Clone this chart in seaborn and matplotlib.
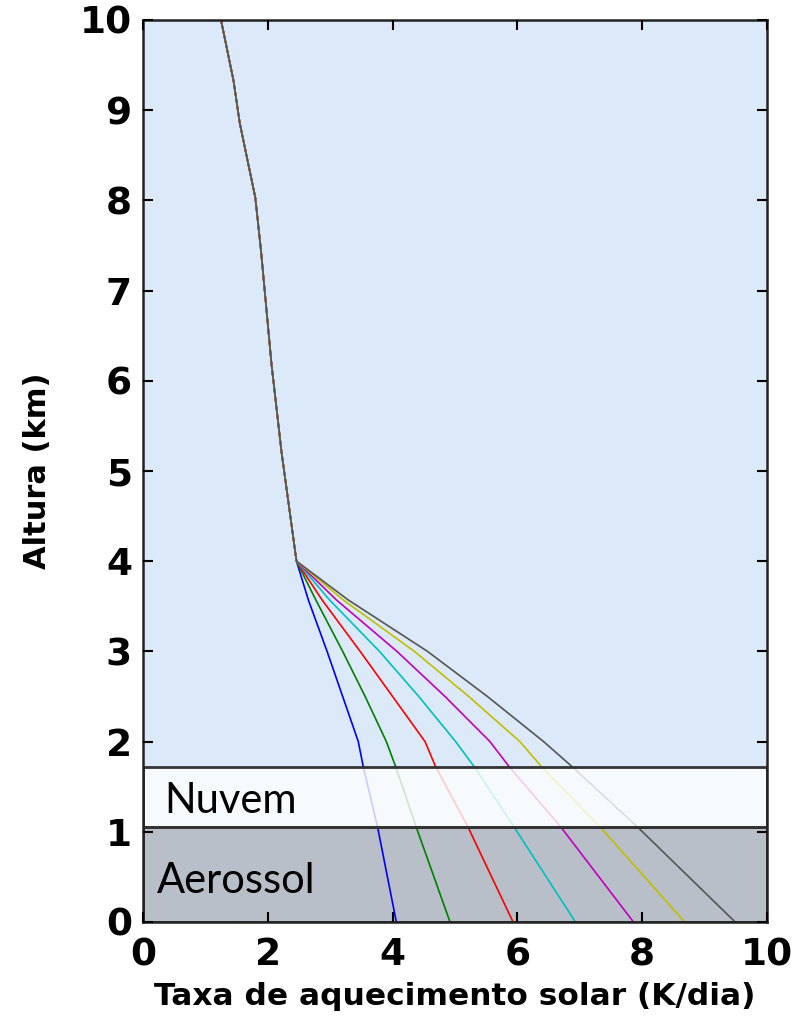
import matplotlib
matplotlib.use("Agg")
import matplotlib.pyplot as plt
import seaborn as sns
import pandas as pd
from matplotlib.patches import Rectangle

# ---- data ----
alt_upper = [10.0, 9.33, 8.86, 8.03, 7.45, 6.18, 5.21, 4.0]
rate_upper = [1.25, 1.45, 1.55, 1.80, 1.89, 2.06, 2.22, 2.46]

alt_lower = [3.57, 3.0, 2.5, 2.0, 1.72, 1.05, 0.0]
rate_blue = [2.65, 2.95, 3.20, 3.45, 3.53, 3.76, 4.06]
rate_green = [2.77, 3.20, 3.56, 3.90, 4.05, 4.38, 4.92]
rate_red = [2.87, 3.48, 4.00, 4.52, 4.69, 5.21, 5.93]
rate_cyan = [2.99, 3.79, 4.42, 5.01, 5.31, 5.95, 6.93]
rate_magenta = [3.10, 4.07, 4.84, 5.56, 5.87, 6.70, 7.86]
rate_yellow = [3.21, 4.35, 5.22, 6.04, 6.39, 7.33, 8.68]
rate_gray = [3.29, 4.56, 5.52, 6.42, 6.88, 7.93, 9.49]

series_names = ["azul", "verde", "vermelho", "ciano", "magenta", "amarelo", "cinza"]
series_rates = [rate_blue, rate_green, rate_red, rate_cyan, rate_magenta, rate_yellow, rate_gray]
series_colors = ["#0000ff", "#008000", "#ff0000", "#00bfbf", "#bf00bf", "#bfbf00", "#555555"]

aerosol_top = 1.05
cloud_top = 1.72

x_ticks = [0, 2, 4, 6, 8, 10]
y_ticks = [0, 1, 2, 3, 4, 5, 6, 7, 8, 9, 10]

rows = []
for name, rates in zip(series_names, series_rates):
    for a, r in zip(alt_upper + alt_lower, rate_upper + rates):
        rows.append({"serie": name, "alt": a, "rate": r})
df = pd.DataFrame(rows)

# ---- figure ----
sns.set_style("ticks")
plt.rcParams["font.family"] = ["DejaVu Sans"]
plt.rcParams["text.color"] = "black"
plt.rcParams["axes.labelcolor"] = "black"
plt.rcParams["xtick.color"] = "black"
plt.rcParams["ytick.color"] = "black"

fig = plt.figure(figsize=(7.97, 10.23), dpi=100)
ax = fig.add_axes([143 / 797, 1 - 922 / 1023, 624 / 797, 902 / 1023])
ax.set_facecolor("#dce9f8")

ax.add_patch(Rectangle((0, 0), 10, aerosol_top, facecolor="#b8bfc8",
                       edgecolor="none", zorder=1))

sns.lineplot(data=df, x="rate", y="alt", hue="serie", hue_order=series_names,
             palette=dict(zip(series_names, series_colors)), sort=False,
             estimator=None, legend=False, lw=1.2, ax=ax, zorder=2)

ax.add_patch(Rectangle((0, aerosol_top), 10, cloud_top - aerosol_top,
                       facecolor="white", alpha=0.8, edgecolor="none", zorder=3))
ax.add_patch(Rectangle((0, aerosol_top), 10, cloud_top - aerosol_top,
                       facecolor="none", edgecolor="#333333", lw=2.0, zorder=4))
ax.add_patch(Rectangle((0, 0), 10, aerosol_top,
                       facecolor="none", edgecolor="#333333", lw=2.0, zorder=4))

ax.text(0.34, 1.21, "Nuvem", family=["Lato", "DejaVu Sans"], fontsize=30,
        color="black", ha="left", va="baseline", zorder=5)
ax.text(0.22, 0.325, "Aerossol", family=["Lato", "DejaVu Sans"], fontsize=30,
        color="black", ha="left", va="baseline", zorder=5)

ax.set_xlim(0, 10)
ax.set_ylim(0, 10)
ax.set_xticks(x_ticks)
ax.set_yticks(y_ticks)
ax.set_xticklabels([str(t) for t in x_ticks])
ax.set_yticklabels([str(t) for t in y_ticks])
ax.tick_params(direction="in", length=7, width=1.5, top=True, right=True,
               labelsize=27, colors="black")
ax.tick_params(axis="x", pad=11)
ax.tick_params(axis="y", pad=8)
for lab in ax.get_xticklabels() + ax.get_yticklabels():
    lab.set_fontweight("bold")
for sp in ax.spines.values():
    sp.set_linewidth(1.8)
    sp.set_color("#222222")
    sp.set_zorder(6)
ax.xaxis.set_zorder(6)
ax.yaxis.set_zorder(6)

ax.set_xlabel("Taxa de aquecimento solar (K/dia)", fontsize=22.5,
              fontweight="bold", labelpad=6, color="black")
ax.set_ylabel("Altura (km)", fontsize=22, fontweight="bold", labelpad=20,
              color="black")

fig.savefig("out.png", dpi=100)
